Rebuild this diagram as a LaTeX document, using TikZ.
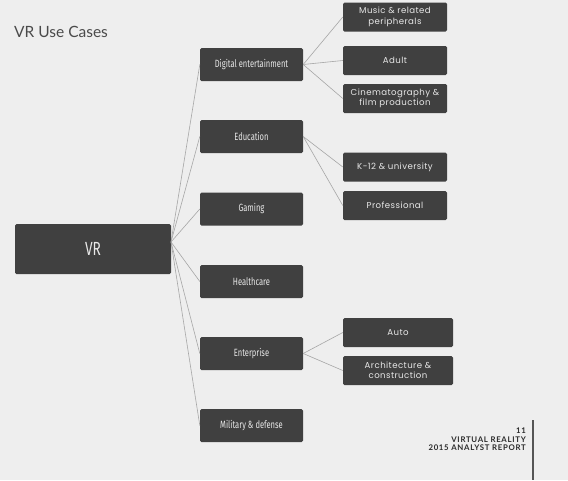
\documentclass[tikz,border=0pt]{standalone}
\usepackage{fontspec}
\newfontfamily\titlefont{Lato}
\newfontfamily\condfont[FakeStretch=0.72]{Fira Sans}
\newfontfamily\widefont[LetterSpace=5]{Poppins}
\newfontfamily\footfont[LetterSpace=9]{Lato}
\definecolor{bg}{HTML}{EEEEEE}
\definecolor{boxc}{HTML}{404040}
\definecolor{linec}{HTML}{A6A6A6}
\definecolor{txt}{HTML}{E8E8E8}
\definecolor{titlec}{HTML}{4A4A4A}
\definecolor{footc}{HTML}{2A2A2A}
\begin{document}
\begin{tikzpicture}[x=1pt,y=-1pt,
  basebox/.style={fill=boxc, rounded corners=1.5pt, text=txt, inner sep=0pt, align=center},
  lone/.style={basebox, minimum width=103pt, minimum height=33pt, font=\condfont\fontsize{10.5}{12}\selectfont},
  ltwo/.style={basebox, minimum width=104pt, minimum height=29pt, font=\widefont\fontsize{8.6}{10.5}\selectfont},
  ltwob/.style={ltwo, minimum width=110pt},
  conn/.style={draw=linec, line width=0.6pt}]
\useasboundingbox (0,0) rectangle (568,480);
\fill[bg] (0,0) rectangle (568,480);
\node[anchor=base west, text=titlec, font=\titlefont\fontsize{15.5}{18}\selectfont, inner sep=0pt] (title) at (14,37) {VR Use Cases};
% root
\node[basebox, minimum width=156pt, minimum height=50pt, font=\condfont\fontsize{19}{22}\selectfont] (vr) at (93,249) {VR};
\coordinate (hub) at (171,242);
% level 1
\node[lone] (de) at (251.5,64.5) {Digital entertainment};
\node[lone] (ed) at (251.5,136.5) {Education};
\node[lone] (ga) at (251.5,209) {Gaming};
\node[lone] (he) at (251.5,281.5) {Healthcare};
\node[lone] (en) at (251.5,353.5) {Enterprise};
\node[lone] (mi) at (251.5,425.5) {Military \& defense};
% level 2
\node[ltwo] (mu) at (395,17) {Music \& related\\peripherals};
\node[ltwo] (ad) at (395,60.5) {Adult};
\node[ltwo] (ci) at (395,98.5) {Cinematography \&\\film production};
\node[ltwo] (k12) at (395,167) {K-12 \& university};
\node[ltwo] (pr) at (395,205.5) {Professional};
\node[ltwob] (au) at (398,332.5) {Auto};
\node[ltwob] (ar) at (398,370.5) {Architecture \&\\construction};
% connectors
\foreach \t in {de,ed,ga,he,en,mi} \draw[conn] (hub) -- (\t.west);
\foreach \t in {mu,ad,ci} \draw[conn] (de.east) -- (\t.west);
\foreach \t in {k12,pr} \draw[conn] (ed.east) -- (\t.west);
\foreach \t in {au,ar} \draw[conn] (en.east) -- (\t.west);
% footer
\coordinate (ftop) at (533,420);
\coordinate (fbot) at (533,480);
\draw[draw=footc!80, line width=1.1pt] (ftop) -- (fbot);
\node[anchor=north east, align=right, text=footc, inner sep=0pt, font=\footfont\bfseries\fontsize{7.8}{8.4}\selectfont] (foot) at (526,428) {11\\VIRTUAL REALITY\\2015 ANALYST REPORT};
\end{tikzpicture}
\end{document}
